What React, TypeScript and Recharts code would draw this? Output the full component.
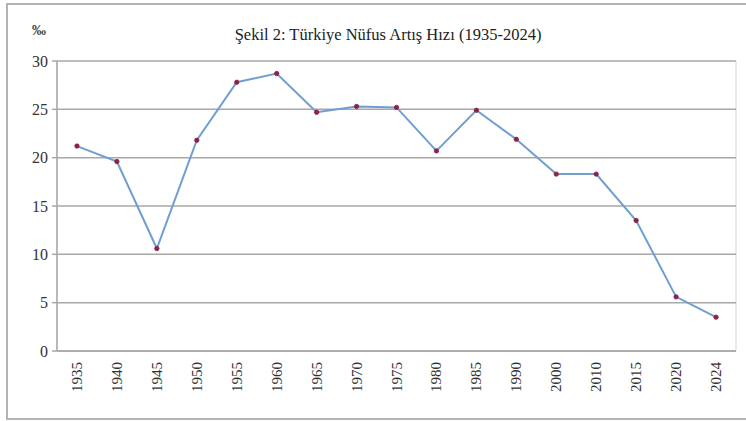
import React from "react";
import { CartesianGrid, Line, LineChart, XAxis, YAxis } from "recharts";

// Türkiye nüfus artış hızı (‰), 1935-2024
const years = ["1935", "1940", "1945", "1950", "1955", "1960", "1965", "1970", "1975", "1980", "1985", "1990", "2000", "2010", "2015", "2020", "2024"];
const rates = [21.2, 19.6, 10.6, 21.8, 27.8, 28.7, 24.7, 25.3, 25.2, 20.7, 24.9, 21.9, 18.3, 18.3, 13.5, 5.6, 3.5];
const yTicks = [0, 5, 10, 15, 20, 25, 30];

const FONT = '"Liberation Serif", "Times New Roman", serif';
const W = 746;
const H = 421;

// each year sits in the middle of its own band, Excel-style
const data = years.map((year, i) => ({ pos: i + 0.5, year, rate: rates[i] }));
const bandEdges = years.map((_, i) => i).concat(years.length);
const bandMids = data.map((d) => d.pos);

function YearTick(props: any) {
  const { x, y, payload } = props;
  const label = years[Math.floor(payload.value)] ?? "";
  const tx = x + 5;
  const ty = y - 2;
  return (
    <text
      x={tx}
      y={ty}
      transform={`rotate(-90, ${tx}, ${ty})`}
      textAnchor="end"
      fontSize={15}
      fontFamily={FONT}
      fill="#333"
    >
      {label}
    </text>
  );
}

export default function App() {
  return (
    <div style={{ position: "absolute", left: 0, top: 0, width: W, height: H, background: "#fff", fontFamily: FONT, overflow: "hidden" }}>
      <div
        style={{
          position: "absolute",
          left: 6,
          top: 3,
          width: W,
          height: 413,
          borderTop: "2px solid #b4b4b4",
          borderLeft: "2px solid #b4b4b4",
          borderBottom: "2px solid #b4b4b4",
        }}
      />
      <div style={{ position: "absolute", left: 0, width: 776, top: 25, textAlign: "center", fontSize: 16.5, color: "#222" }}>
        Şekil 2: Türkiye Nüfus Artış Hızı (1935-2024)
      </div>
      <div style={{ position: "absolute", left: 32, top: 23, fontSize: 14, fontWeight: "bold", color: "#444" }}>‰</div>
      <div style={{ position: "absolute", left: 0, top: 0 }}>
        <LineChart width={W} height={H} data={data} margin={{ top: 61, right: 10, bottom: 0, left: 0 }}>
          <CartesianGrid horizontal={false} stroke="#dcdcdc" strokeWidth={1.2} />
          <CartesianGrid vertical={false} stroke="#a8a8a8" strokeWidth={1.5} />
          <XAxis
            dataKey="pos"
            type="number"
            domain={[0, years.length]}
            ticks={bandEdges}
            tick={false}
            tickSize={4}
            height={5}
            axisLine={{ stroke: "#a8a8a8", strokeWidth: 1.5 }}
            tickLine={{ stroke: "#a8a8a8", strokeWidth: 1.5 }}
          />
          <XAxis
            xAxisId="lab"
            dataKey="pos"
            type="number"
            domain={[0, years.length]}
            ticks={bandMids}
            tick={<YearTick />}
            axisLine={false}
            tickLine={false}
            height={65}
            interval={0}
          />
          <YAxis
            type="number"
            domain={[0, 30]}
            ticks={yTicks}
            width={57}
            tickSize={5}
            tickMargin={4}
            axisLine={{ stroke: "#a8a8a8", strokeWidth: 1.5 }}
            tickLine={{ stroke: "#a8a8a8", strokeWidth: 1.5 }}
            tick={{ fontSize: 16, fontFamily: FONT, fill: "#333" }}
          />
          <Line
            type="linear"
            dataKey="rate"
            stroke="#6f9fd2"
            strokeWidth={2}
            dot={{ r: 2.2, fill: "#8a2347", stroke: "#8a2347", strokeWidth: 0.8 }}
            isAnimationActive={false}
          />
        </LineChart>
      </div>
    </div>
  );
}
